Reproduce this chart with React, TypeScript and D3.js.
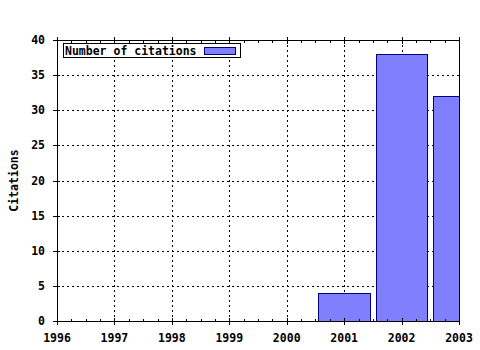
import React from "react";
import * as d3 from "d3";

const years = [2001, 2002, 2003];
const citations = [4, 38, 32];
const xTickValues = [1996, 1997, 1998, 1999, 2000, 2001, 2002, 2003];
const xTickLabels = ["1996", "1997", "1998", "1999", "2000", "2001", "2002", "2003"];
const yTickValues = [0, 5, 10, 15, 20, 25, 30, 35, 40];
const seriesName = "Number of citations";
const yAxisTitle = "Citations";

const W = 480;
const H = 350;
const L = 57;
const R = 459;
const T = 40;
const B = 321;
const FONT = "'DejaVu Sans Mono', 'Liberation Mono', monospace";

export default function App() {
  const x = d3.scaleLinear().domain([1996, 2003]).range([L, R]);
  const y = d3.scaleLinear().domain([0, 40]).range([B, T]);
  const barHalf = 0.45;
  const minorX = d3.range(1996, 2003.001, 0.25);

  return (
    <svg
      width={W}
      height={H}
      style={{ position: "absolute", left: 0, top: 0, background: "#fff" }}
      shapeRendering="crispEdges"
    >
      <rect x={0} y={0} width={W} height={H} fill="#fff" />
      <defs>
        <clipPath id="plotclip">
          <rect x={L} y={T} width={R - L} height={B - T} />
        </clipPath>
      </defs>
      {/* grid */}
      {xTickValues.slice(1, -1).map((v) => (
        <line key={"gx" + v} x1={Math.round(x(v)) + 0.5} x2={Math.round(x(v)) + 0.5} y1={T} y2={B}
          stroke="#000" strokeDasharray="2,3" strokeWidth={1} />
      ))}
      {yTickValues.slice(1, -1).map((v) => (
        <line key={"gy" + v} x1={L} x2={R} y1={Math.round(y(v)) + 0.5} y2={Math.round(y(v)) + 0.5}
          stroke="#000" strokeDasharray="2,3" strokeWidth={1} />
      ))}
      {/* bars */}
      <g clipPath="url(#plotclip)">
        {years.map((yr, i) => {
          const x0 = Math.round(x(yr - barHalf)) + 0.5;
          const x1 = Math.round(x(yr + barHalf)) + 0.5;
          const y0 = Math.round(y(citations[i])) + 0.5;
          const y1 = Math.round(y(0)) + 0.5;
          return (
            <rect key={yr} x={x0} y={y0} width={x1 - x0} height={y1 - y0}
              fill="#8080ff" stroke="#000080" strokeWidth={1} />
          );
        })}
      </g>
      {/* frame */}
      <line x1={L + 0.5} x2={L + 0.5} y1={T - 3} y2={B + 1} stroke="#000" />
      <line x1={R + 0.5} x2={R + 0.5} y1={T - 3} y2={B + 3} stroke="#000" />
      <line x1={L - 3} x2={R + 1} y1={B + 0.5} y2={B + 0.5} stroke="#000" />
      <line x1={L} x2={R + 1} y1={T + 0.5} y2={T + 0.5} stroke="#000" />
      {/* minor x ticks */}
      {minorX.map((v) => {
        const px = Math.round(x(v)) + 0.5;
        return (
          <g key={"mx" + v}>
            <line x1={px} x2={px} y1={B - 2} y2={B} stroke="#000" />
            <line x1={px} x2={px} y1={T + 1} y2={T + 3} stroke="#000" />
          </g>
        );
      })}
      {/* major x ticks */}
      {xTickValues.map((v) => {
        const px = Math.round(x(v)) + 0.5;
        return (
          <g key={"Mx" + v}>
            <line x1={px} x2={px} y1={B - 3} y2={B + 4} stroke="#000" />
            <line x1={px} x2={px} y1={T - 3} y2={T + 4} stroke="#000" />
          </g>
        );
      })}
      {/* y ticks */}
      {yTickValues.map((v) => {
        const py = Math.round(y(v)) + 0.5;
        return <line key={"ty" + v} x1={L - 4} x2={L + 3} y1={py} y2={py} stroke="#000" />;
      })}
      {/* labels */}
      <g fontFamily={FONT} fontWeight="bold" fontSize={11.5} fill="#000" shapeRendering="auto">
        {xTickValues.map((v, i) => (
          <text key={"lx" + v} x={x(v)} y={342} textAnchor="middle">{xTickLabels[i]}</text>
        ))}
        {yTickValues.map((v) => (
          <text key={"ly" + v} x={45} y={y(v) + 4} textAnchor="end">{String(v)}</text>
        ))}
        <text transform={`translate(18,${(T + B) / 2}) rotate(-90)`} textAnchor="middle">{yAxisTitle}</text>
      </g>
      {/* legend */}
      <rect x={63.5} y={43.5} width={177} height={14} fill="#fff" stroke="#000" />
      <text x={65} y={55} fontFamily={FONT} fontWeight="bold" fontSize={11.5} fill="#000">{seriesName}</text>
      <rect x={204.5} y={47.5} width={31} height={7} fill="#8080ff" stroke="#000080" />
    </svg>
  );
}
